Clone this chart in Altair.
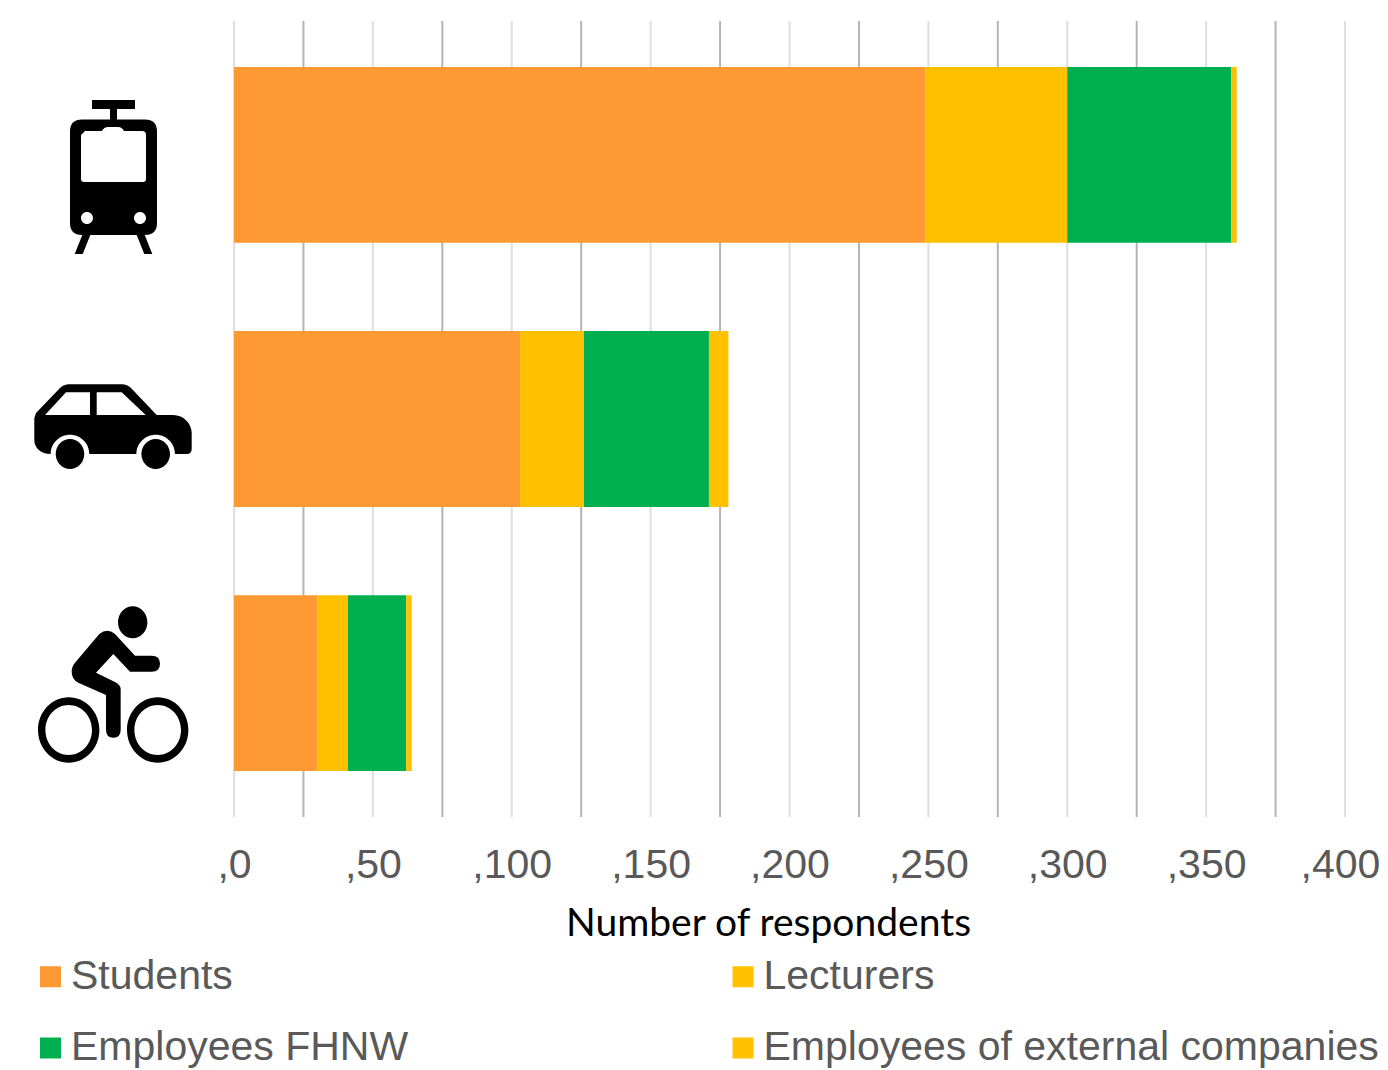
import altair as alt
import pandas as pd

modes = ["Public transport", "Car", "Bicycle"]
groups = ["Students", "Lecturers", "Employees FHNW", "Employees of external companies"]
colors = ["#FF9933", "#FFC000", "#00B050", "#FFC000"]
students = [249, 103, 30]
lecturers = [51, 23, 11]
employees = [59, 45, 21]
external = [2, 7, 2]
minor_grid = [0, 50, 100, 150, 200, 250, 300, 350, 400]
major_grid = [25, 75, 125, 175, 225, 275, 325, 375]

# ---- icon outlines: built in picture pixels around the icon origin, unit = 100 px
S = 100.0


def fmt(ox, oy, x, y):
    return f"{(x - ox) / S:.4f} {(y - oy) / S:.4f}"


def poly(o, pts):
    return "M" + "L".join(fmt(*o, *p) for p in pts) + "Z"


def ellipse(o, cx, cy, rx, ry, cw=True):
    k = 0.5523
    if not cw:
        ry = -ry
    p = lambda x, y: fmt(*o, x, y)
    return (
        f"M{p(cx - rx, cy)}"
        f"C{p(cx - rx, cy - k * ry)} {p(cx - k * rx, cy - ry)} {p(cx, cy - ry)}"
        f"C{p(cx + k * rx, cy - ry)} {p(cx + rx, cy - k * ry)} {p(cx + rx, cy)}"
        f"C{p(cx + rx, cy + k * ry)} {p(cx + k * rx, cy + ry)} {p(cx, cy + ry)}"
        f"C{p(cx - k * rx, cy + ry)} {p(cx - rx, cy + k * ry)} {p(cx - rx, cy)}Z"
    )


def rounded(o, x0, y0, x1, y1, r):
    p = lambda x, y: fmt(*o, x, y)
    return (
        f"M{p(x0 + r, y0)}L{p(x1 - r, y0)}Q{p(x1, y0)} {p(x1, y0 + r)}"
        f"L{p(x1, y1 - r)}Q{p(x1, y1)} {p(x1 - r, y1)}"
        f"L{p(x0 + r, y1)}Q{p(x0, y1)} {p(x0, y1 - r)}"
        f"L{p(x0, y0 + r)}Q{p(x0, y0)} {p(x0 + r, y0)}Z"
    )


def train_path(o):
    p = lambda x, y: fmt(*o, x, y)
    window = (
        f"M{p(85, 131)}L{p(81, 135)}L{p(81, 179)}Q{p(81, 182)} {p(84, 182)}"
        f"L{p(143, 182)}Q{p(146, 182)} {p(146, 179)}L{p(146, 135)}Q{p(146, 131)} {p(142, 131)}"
        f"L{p(124, 131)}Q{p(122, 127)} {p(118, 127)}L{p(108, 127)}Q{p(104, 127)} {p(102, 131)}Z"
    )
    return (
        rounded(o, 92, 100, 135, 109, 0.5)
        + rounded(o, 110, 108, 117, 121, 0.5)
        + rounded(o, 70, 119.5, 157, 235, 12)
        + window
        + ellipse(o, 87, 218, 6, 6, cw=False)
        + ellipse(o, 140, 218, 6, 6, cw=False)
        + poly(o, [(82.7, 234), (90.7, 234), (82.7, 254), (74.7, 254)])
        + poly(o, [(136.3, 234), (144.3, 234), (152.3, 254), (144.3, 254)])
    )


def car_path(o):
    p = lambda x, y: fmt(*o, x, y)
    k = 0.5523
    r = 19.3
    yb = 454
    outline = (
        f"M{p(34.3, 418)}L{p(36, 413)}L{p(60, 388)}Q{p(64, 384.3)} {p(69, 384.3)}"
        f"L{p(122, 384.3)}Q{p(127, 384.3)} {p(131, 388)}L{p(156.7, 415)}"
        f"L{p(173, 415)}C{p(184, 415)} {p(191.7, 424)} {p(191.7, 433)}"
        f"L{p(191.7, 449)}Q{p(191.7, 454)} {p(186.7, 454)}L{p(175, 454)}"
        f"C{p(175, yb - k * r)} {p(155.7 + k * r, yb - r)} {p(155.7, yb - r)}"
        f"C{p(155.7 - k * r, yb - r)} {p(136.4, yb - k * r)} {p(136.4, yb)}"
        f"L{p(89.3, 454)}"
        f"C{p(89.3, yb - k * r)} {p(70 + k * r, yb - r)} {p(70, yb - r)}"
        f"C{p(70 - k * r, yb - r)} {p(50.7, yb - k * r)} {p(50.7, yb)}"
        f"C{p(41, 454)} {p(34.3, 448)} {p(34.3, 440)}Z"
    )
    return (
        outline
        + poly(o, [(45, 415), (90, 415), (90, 392.3), (66, 392.3)])
        + poly(o, [(96.7, 392.3), (96.7, 415), (145.7, 415), (121.7, 392.3)])
        + ellipse(o, 70, 454, 14.3, 15)
        + ellipse(o, 155.7, 454, 14.3, 15)
    )


def bike_path(o):
    z = lambda x, y: fmt(*o, 20 + x / 3, 590 + y / 3)
    rider = (
        f"M{z(238, 132)}Q{z(262, 112)} {z(285, 132)}L{z(345, 197)}L{z(395, 197)}"
        f"Q{z(420, 197)} {z(420, 221)}Q{z(420, 245)} {z(395, 245)}L{z(330, 245)}"
        f"L{z(280, 192)}L{z(228, 248)}L{z(285, 276)}Q{z(302, 284)} {z(302, 298)}"
        f"L{z(302, 420)}Q{z(302, 443)} {z(280, 443)}Q{z(258, 443)} {z(258, 420)}"
        f"L{z(258, 315)}L{z(175, 278)}Q{z(155, 268)} {z(155, 245)}Q{z(155, 230)} {z(165, 218)}Z"
    )
    return (
        ellipse(o, 132.7, 622.3, 14.7, 16)
        + rider
        + ellipse(o, 68.7, 730, 30.7, 32.7)
        + ellipse(o, 68.7, 730, 23.3, 25, cw=False)
        + ellipse(o, 157.7, 730, 30.7, 32.7)
        + ellipse(o, 157.7, 730, 23.3, 25, cw=False)
    )


icons = [train_path((113.5, 154.9)), car_path((113.5, 419)), bike_path((113.5, 683.1))]

# ---- tables
rows = []
for i, m in enumerate(modes):
    for j, (g, series) in enumerate(zip(groups, [students, lecturers, employees, external])):
        rows.append({"mode": m, "group": g, "order": j, "count": series[i]})
bars_df = pd.DataFrame(rows)
icons_df = pd.DataFrame({"mode": modes, "icon": icons})

y_scale = alt.Scale(domain=modes, paddingInner=0.334, paddingOuter=0.174)
x_scale = alt.Scale(domain=[0, 400], nice=False)

x_axis = alt.Axis(
    values=minor_grid,
    grid=False,
    domain=False,
    ticks=False,
    labelFont="Liberation Sans",
    labelFontSize=41,
    labelColor="#595959",
    labelPadding=28,
    labelExpr="',' + datum.label",
    labelFlush=False,
    labelOverlap=False,
    labelBound=False,
    labelOffset=alt.condition("datum.value === 400", alt.value(-5), alt.value(0)),
    title="Number of respondents",
    titleFont="Lato",
    titleFontWeight="normal",
    titleFontSize=39,
    titleColor="#000000",
    titleX=534,
    titleY=118,
    titleAlign="center",
    titleBaseline="alphabetic",
)

minor = (
    alt.Chart(pd.DataFrame({"v": minor_grid}))
    .mark_rule(color="#dedede", strokeWidth=2)
    .encode(x=alt.X("v:Q", scale=x_scale, axis=x_axis))
)
major = (
    alt.Chart(pd.DataFrame({"v": major_grid}))
    .mark_rule(color="#b4b4b4", strokeWidth=2)
    .encode(x=alt.X("v:Q", scale=x_scale, axis=x_axis))
)

bars = (
    alt.Chart(bars_df)
    .mark_bar()
    .encode(
        y=alt.Y("mode:N", scale=y_scale, sort=modes, axis=None),
        x=alt.X("count:Q", stack="zero", scale=x_scale, axis=x_axis),
        color=alt.Color(
            "group:N",
            scale=alt.Scale(domain=groups, range=colors),
            legend=alt.Legend(
                title=None,
                orient="none",
                legendX=-204,
                legendY=935,
                columns=2,
                direction="horizontal",
                symbolType="square",
                symbolSize=441,
                symbolStrokeWidth=0,
                symbolOpacity=1,
                labelFont="Liberation Sans",
                labelFontSize=41,
                labelColor="#595959",
                labelLimit=900,
                labelOffset=0,
                columnPadding=313.5,
                rowPadding=29.5,
                padding=0,
            ),
        ),
        order=alt.Order("order:Q"),
    )
)

icon_layer = (
    alt.Chart(icons_df)
    .mark_point(filled=True, opacity=1, strokeWidth=0, size=40000, color="#000000")
    .encode(
        y=alt.Y("mode:N", scale=y_scale, sort=modes, axis=None),
        x=alt.value(-120.5),
        shape=alt.Shape("icon:N", scale=None),
    )
)

chart = (
    alt.layer(minor, major, bars, icon_layer)
    .properties(
        width=1111,
        height=796,
        padding={"left": 226, "top": 13, "right": 35, "bottom": 253},
        autosize=alt.AutoSizeParams(type="none"),
        background="#ffffff",
    )
    .configure_view(stroke=None)
)

chart.save("out.html", embed_options={"renderer": "svg", "actions": False})
